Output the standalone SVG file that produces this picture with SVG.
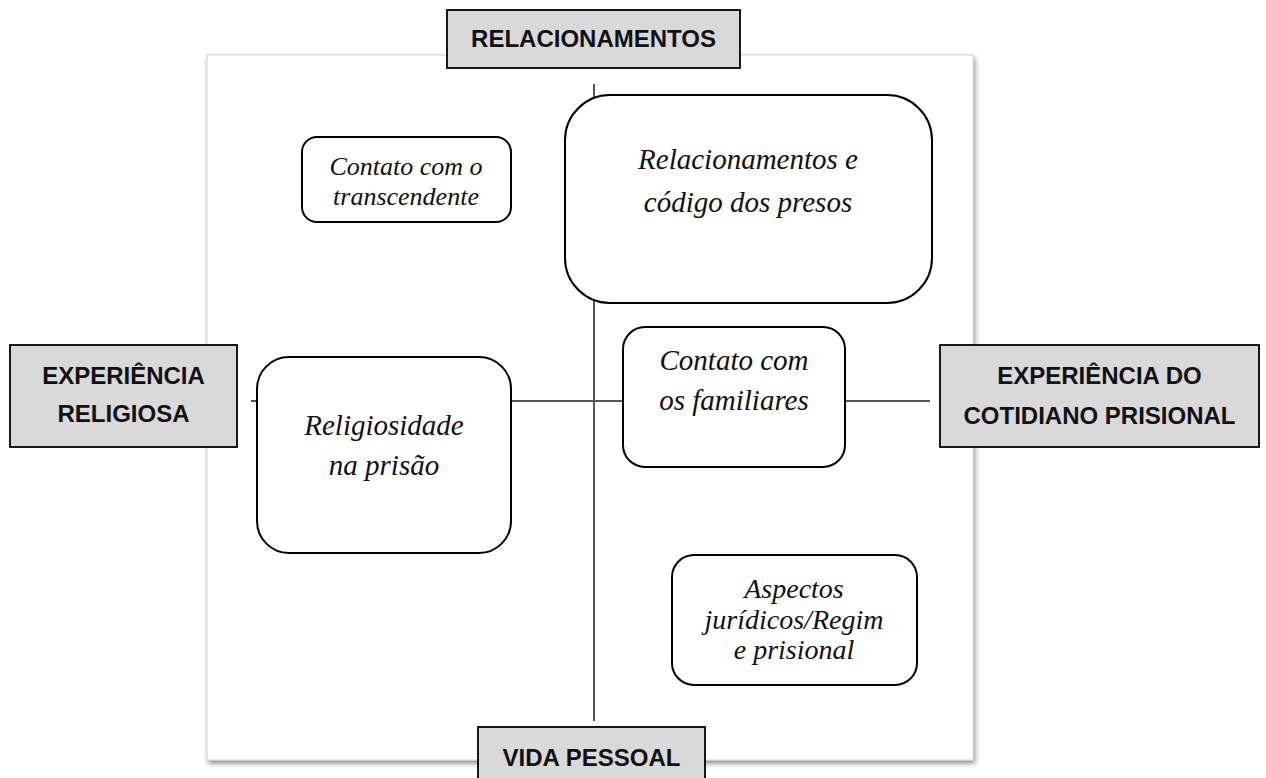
<svg xmlns="http://www.w3.org/2000/svg" width="1266" height="778" viewBox="0 0 1266 778">
  <style>
    .node rect { fill: #ffffff; stroke: #000000; stroke-width: 2; }
    .node text { font-family: "Liberation Serif", "Times New Roman", serif; font-style: italic; fill: #111111; text-anchor: middle; }
    .axis rect { fill: #d9d9d9; stroke: #000000; stroke-width: 1.8; }
    .axis text { font-family: "Liberation Sans", Arial, sans-serif; font-weight: bold; font-size: 24px; fill: #111111; text-anchor: middle; }
    .conn line { stroke: #555555; stroke-width: 2; }
  </style>
  <defs>
    <filter id="shadow" x="-5%" y="-5%" width="110%" height="110%">
      <feDropShadow dx="1.5" dy="3" stdDeviation="2.5" flood-color="#000000" flood-opacity="0.45"/>
    </filter>
  </defs>
  <rect width="1266" height="778" fill="#ffffff"/>

  <!-- frame -->
  <rect id="frame" x="207" y="55" width="766" height="705" fill="#ffffff" stroke="#d4d4d4" stroke-width="1" filter="url(#shadow)"/>

  <!-- connectors -->
  <g id="connectors" class="conn">
    <line x1="594" y1="84" x2="594" y2="721"/>
    <line x1="251" y1="401" x2="930" y2="401"/>
  </g>

  <!-- nodes -->
  <g id="node-transcendente" class="node">
    <rect x="302" y="137" width="209" height="85" rx="15" ry="15"/>
    <text x="406" y="175" font-size="26">Contato com o</text>
    <text x="406" y="205" font-size="26">transcendente</text>
  </g>

  <g id="node-relacionamentos" class="node">
    <rect x="565" y="95" width="367" height="208" rx="45" ry="45"/>
    <text x="748" y="169" font-size="29">Relacionamentos e</text>
    <text x="748" y="212" font-size="29">código dos presos</text>
  </g>

  <g id="node-religiosidade" class="node">
    <rect x="257" y="357" width="254" height="196" rx="32" ry="32"/>
    <text x="384" y="435" font-size="29">Religiosidade</text>
    <text x="384" y="475" font-size="29">na prisão</text>
  </g>

  <g id="node-familiares" class="node">
    <rect x="623" y="327" width="222" height="140" rx="22" ry="22"/>
    <text x="734" y="370" font-size="29">Contato com</text>
    <text x="734" y="410" font-size="29">os familiares</text>
  </g>

  <g id="node-juridicos" class="node">
    <rect x="672" y="555" width="245" height="130" rx="22" ry="22"/>
    <text x="794" y="598" font-size="28">Aspectos</text>
    <text x="794" y="629" font-size="28">jurídicos/Regim</text>
    <text x="794" y="659" font-size="28">e prisional</text>
  </g>

  <!-- axis labels -->
  <g id="label-relacionamentos" class="axis">
    <rect x="447" y="10" width="293" height="58"/>
    <text x="593.5" y="47">RELACIONAMENTOS</text>
  </g>

  <g id="label-religiosa" class="axis">
    <rect x="10" y="345" width="227" height="102"/>
    <text x="123.5" y="384">EXPERIÊNCIA</text>
    <text x="123.5" y="422">RELIGIOSA</text>
  </g>

  <g id="label-cotidiano" class="axis">
    <rect x="940" y="345" width="319" height="102"/>
    <text x="1099.5" y="384">EXPERIÊNCIA DO</text>
    <text x="1099.5" y="424">COTIDIANO PRISIONAL</text>
  </g>

  <g id="label-vida" class="axis">
    <rect x="478" y="727" width="227" height="70"/>
    <text x="591.5" y="766">VIDA PESSOAL</text>
  </g>
</svg>
